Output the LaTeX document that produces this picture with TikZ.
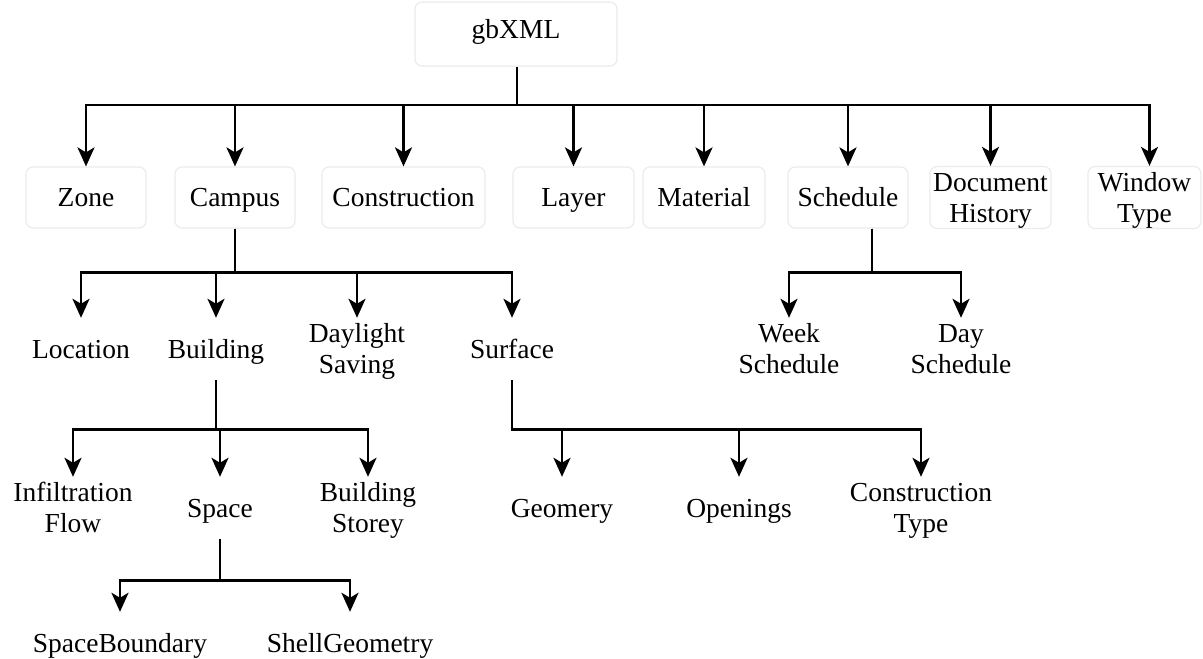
\documentclass[tikz,border=0pt]{standalone}
\usepackage{fontspec}
\setmainfont{Liberation Serif}
\usetikzlibrary{arrows.meta}
\newcommand\mys{\rule[-6.2pt]{0pt}{31pt}}
\begin{document}
\begin{tikzpicture}[x=1pt,y=-1pt,
  every node/.style={font=\fontsize{27.5}{31}\selectfont, inner sep=0pt, align=center},
  box/.style={draw=black!8, line width=1.2pt, rounded corners=7pt, minimum height=61pt},
  leaf/.style={minimum height=62pt},
  conn/.style={line width=2.8pt},
  arr/.style={conn, -{Stealth[length=19pt,width=17pt,inset=5pt]}}]
\useasboundingbox (0,0) rectangle (1203,659);
% root
\node[box, minimum width=202pt, minimum height=64pt] (gb) at (516,34) {\raisebox{16pt}{gbXML\mys}};
% top row
\node[box, minimum width=120pt] (zone) at (86,197.5) {Zone\mys};
\node[box, minimum width=120pt] (campus) at (235,197.5) {Campus\mys};
\node[box, minimum width=163pt] (constr) at (403.5,197.5) {Construction\mys};
\node[box, minimum width=121pt] (layer) at (573.5,197.5) {Layer\mys};
\node[box, minimum width=122pt] (material) at (704,197.5) {Material\mys};
\node[box, minimum width=120pt] (sched) at (848,197.5) {Schedule\mys};
\node[box, minimum width=121pt] (dochist) at (990.5,197.5) {Document\mys\\History\mys};
\node[box, minimum width=113pt] (window) at (1144.5,197.5) {Window\mys\\Type\mys};
% second row
\node[leaf] (loc) at (81,349) {Location\mys};
\node[leaf] (bldg) at (216,349) {Building\mys};
\node[leaf] (day) at (357,349) {Daylight\mys\\Saving\mys};
\node[leaf] (surf) at (512,349) {Surface\mys};
\node[leaf] (week) at (789,349) {Week\mys\\Schedule\mys};
\node[leaf] (dayS) at (961,349) {Day\mys\\Schedule\mys};
% third row
\node[leaf] (inf) at (73,508) {Infiltration\mys\\Flow\mys};
\node[leaf] (space) at (220,508) {Space\mys};
\node[leaf] (storey) at (368,508) {Building\mys\\Storey\mys};
\node[leaf] (geo) at (562,508) {Geomery\mys};
\node[leaf] (open) at (739,508) {Openings\mys};
\node[leaf] (ctype) at (921,508) {Construction\mys\\Type\mys};
% fourth row
\node[leaf] (sb) at (120,643) {SpaceBoundary\mys};
\node[leaf] (sg) at (350,643) {ShellGeometry\mys};
% connectors: root
\coordinate (j0) at (517,105);
\draw[conn] (gb.south -| j0) -- (j0);
\foreach \c in {zone,campus,constr,layer,material,sched,dochist}
  \draw[arr] (j0) -| (\c.north);
\draw[arr] (j0) -| ([xshift=5pt]window.north);
% campus
\foreach \c in {loc,bldg,day,surf}
  \draw[arr] (campus.south) -- ++(0,44) -| (\c.north);
% schedule
\foreach \c in {week,dayS}
  \draw[arr] ([xshift=24pt]sched.south) -- ++(0,44) -| (\c.north);
% building
\foreach \c in {inf,space,storey}
  \draw[arr] (bldg.south) -- ++(0,49) -| (\c.north);
% surface
\foreach \c in {geo,open,ctype}
  \draw[arr] (surf.south) -- ++(0,49) -| (\c.north);
% space
\foreach \c in {sb,sg}
  \draw[arr] (space.south) -- ++(0,41) -| (\c.north);
\end{tikzpicture}
\end{document}
